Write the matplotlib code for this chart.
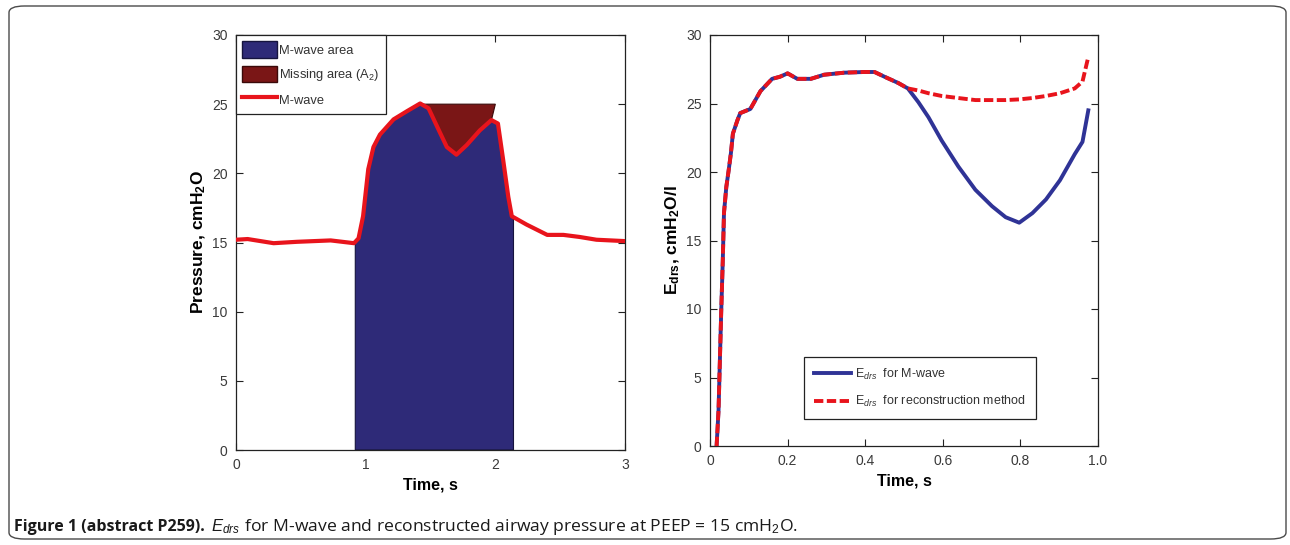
import numpy as np
import matplotlib
matplotlib.use("Agg")
import matplotlib.pyplot as plt
from matplotlib import font_manager as fm
from matplotlib.patches import FancyBboxPatch, Patch
from matplotlib.lines import Line2D

# ---------------- data ----------------
# Left panel: airway pressure (M-wave)
time_p = [0, 0.09, 0.29, 0.47, 0.73, 0.91, 0.945, 0.98, 1.0, 1.02, 1.06, 1.11,
          1.215, 1.32, 1.42, 1.485, 1.55, 1.626, 1.70, 1.78, 1.88, 1.97, 2.02,
          2.06, 2.10, 2.127, 2.24, 2.40, 2.525, 2.65, 2.78, 3.0]
pressure = [15.2, 15.25, 14.95, 15.05, 15.15, 14.95, 15.3, 16.9, 18.6, 20.3,
            21.9, 22.8, 23.9, 24.5, 25.05, 24.7, 23.4, 21.9, 21.35, 22.05,
            23.1, 23.85, 23.6, 21.0, 18.3, 16.9, 16.3, 15.55, 15.55, 15.4,
            15.2, 15.1]
mwave_start, mwave_end = 0.92, 2.14
missing_level, missing_start, missing_end = 25.0, 1.42, 2.0

# Right panel: E_drs
time_e = [0.017, 0.022, 0.026, 0.029, 0.033, 0.036, 0.042, 0.048, 0.054, 0.059,
          0.071, 0.078, 0.104, 0.13, 0.16, 0.18, 0.20, 0.225, 0.26, 0.294, 0.346,
          0.398, 0.424, 0.45, 0.485, 0.51, 0.537, 0.563, 0.597, 0.64, 0.684,
          0.727, 0.762, 0.797, 0.831, 0.866, 0.902, 0.94, 0.96, 0.975]
edrs_mwave = [0, 2.6, 6.8, 9.9, 13.6, 17.0, 18.9, 20.1, 21.4, 22.8, 23.8, 24.3,
              24.6, 25.9, 26.8, 26.95, 27.2, 26.8, 26.8, 27.1, 27.25, 27.3, 27.3,
              26.95, 26.5, 26.1, 25.1, 24.0, 22.3, 20.4, 18.7, 17.5, 16.7, 16.3,
              17.0, 18.0, 19.4, 21.3, 22.2, 24.5]
edrs_recon = [0, 2.6, 6.8, 9.9, 13.6, 17.0, 18.9, 20.1, 21.4, 22.8, 23.8, 24.3,
              24.6, 25.9, 26.8, 26.95, 27.2, 26.8, 26.8, 27.1, 27.25, 27.3, 27.3,
              26.95, 26.5, 26.1, 25.95, 25.75, 25.55, 25.4, 25.25, 25.25, 25.25,
              25.3, 25.4, 25.55, 25.75, 26.1, 26.6, 28.4]

left_xticks = [0, 1, 2, 3]
right_xticks = [0, 0.2, 0.4, 0.6, 0.8, 1.0]
right_xticklabels = ["0", "0.2", "0.4", "0.6", "0.8", "1.0"]
yticks = [0, 5, 10, 15, 20, 25, 30]

# ---------------- fonts ----------------
def pick(names):
    for n in names:
        try:
            fm.findfont(fm.FontProperties(family=n), fallback_to_default=False)
            return n
        except Exception:
            continue
    return "DejaVu Sans"

narrow = pick(["Liberation Sans Narrow", "Liberation Sans", "DejaVu Sans"])
arial = pick(["Liberation Sans", "DejaVu Sans"])
capfont = pick(["Liberation Sans Narrow", "Open Sans", "Liberation Sans"])

plt.rcParams["font.family"] = [arial, "DejaVu Sans"]
plt.rcParams["mathtext.fontset"] = "custom"
plt.rcParams["mathtext.rm"] = arial
plt.rcParams["mathtext.it"] = arial + ":italic"
plt.rcParams["mathtext.bf"] = arial + ":bold"

fig = plt.figure(figsize=(12.9, 5.45), dpi=100)

# outer rounded frame
frame = FancyBboxPatch((9 / 1290, 6 / 545), 1277 / 1290, 533 / 545,
                       boxstyle="round,pad=0,rounding_size=0.012",
                       transform=fig.transFigure, fill=False,
                       edgecolor="#4a4a4a", linewidth=1.0, clip_on=False)
fig.patches.append(frame)

tick_color = "#3a3a3a"
red = "#e8141c"
navy = "#2e2a78"
darkred = "#7a1616"


def style_axes(ax):
    ax.tick_params(direction="in", top=True, right=True, length=5, width=0.8,
                   labelsize=10, colors="#222222", labelcolor=tick_color, pad=6)
    for lbl in ax.get_xticklabels() + ax.get_yticklabels():
        lbl.set_fontfamily(narrow)
    for s in ax.spines.values():
        s.set_linewidth(0.9)
        s.set_color("#222222")


# ---------------- left panel ----------------
ax1 = fig.add_axes([236 / 1290, 1 - 450 / 545, 389 / 1290, 415 / 545])
tp = np.array(time_p)
pp = np.array(pressure)

# M-wave area polygon
mask = (tp > mwave_start) & (tp < mwave_end)
xa = np.concatenate([[mwave_start], tp[mask], [mwave_end]])
ya = np.concatenate([[np.interp(mwave_start, tp, pp)], pp[mask],
                     [np.interp(mwave_end, tp, pp)]])
ax1.fill(np.concatenate([[mwave_start], xa, [mwave_end]]),
         np.concatenate([[0], ya, [0]]), facecolor=navy,
         edgecolor="#15133d", linewidth=0.8, zorder=2)

# missing area polygon
m2 = (tp > missing_start) & (tp < missing_end + 0.02)
xm = np.concatenate([[missing_start], [missing_end], [tp[m2][-1]],
                     tp[m2][::-1]])
ym = np.concatenate([[missing_level], [missing_level], [pp[m2][-1]],
                     pp[m2][::-1]])
ax1.fill(xm, ym, facecolor=darkred, edgecolor="#3a0a0a", linewidth=0.8,
         zorder=2)

ax1.plot(tp, pp, color=red, linewidth=3.0, zorder=3, solid_joinstyle="round")

ax1.set_xlim(0, 3)
ax1.set_ylim(0, 30)
ax1.set_xticks(left_xticks)
ax1.set_yticks(yticks)
style_axes(ax1)
ax1.set_xlabel("Time, s", fontsize=11.5, fontweight="bold", labelpad=4)
ax1.set_ylabel(r"Pressure, cmH$_\mathbf{2}$O", fontsize=12.5,
               fontweight="bold", labelpad=3)

h1 = [Patch(facecolor=navy, edgecolor="#15133d"),
      Patch(facecolor=darkred, edgecolor="#3a0a0a"),
      Line2D([], [], color=red, linewidth=3.0)]
leg1 = ax1.legend(h1, ["M-wave area", r"Missing area (A$_2$)", "M-wave"],
                  loc="upper left", bbox_to_anchor=(0, 1), borderaxespad=0,
                  fancybox=False, edgecolor="#222222", framealpha=1,
                  handlelength=2.7, handleheight=1.6, handletextpad=0.1,
                  labelspacing=0.6, borderpad=0.5,
                  prop={"family": narrow, "size": 9.3})
leg1.get_frame().set_linewidth(0.9)
for t in leg1.get_texts():
    t.set_color("#333333")

# ---------------- right panel ----------------
ax2 = fig.add_axes([710 / 1290, 1 - 446 / 545, 388 / 1290, 411 / 545])
l_blue, = ax2.plot(time_e, edrs_mwave, color="#2f3396", linewidth=2.8,
                   zorder=2)
l_red, = ax2.plot(time_e, edrs_recon, color=red, linewidth=2.8, zorder=3,
                  linestyle=(0, (2.4, 0.9)))
ax2.set_xlim(0, 1.0)
ax2.set_ylim(0, 30)
ax2.set_xticks(right_xticks)
ax2.set_xticklabels(right_xticklabels)
ax2.set_yticks(yticks)
style_axes(ax2)
ax2.set_xlabel("Time, s", fontsize=11.5, fontweight="bold", labelpad=4)
ax2.set_ylabel(r"E$_\mathbf{drs}$, cmH$_\mathbf{2}$O/l", fontsize=12.5,
               fontweight="bold", labelpad=3)
leg2 = ax2.legend([l_blue, l_red],
                  [r"E$_{drs}$  for M-wave",
                   r"E$_{drs}$  for reconstruction method"],
                  loc="lower center", bbox_to_anchor=(0.541, 0.05),
                  fancybox=False, edgecolor="#222222", framealpha=1,
                  handlelength=3.0, handletextpad=0.3, labelspacing=1.0,
                  borderpad=0.8, prop={"family": narrow, "size": 9})
leg2.get_frame().set_linewidth(0.9)
for t in leg2.get_texts():
    t.set_color("#333333")

# ---------------- caption ----------------
fig.canvas.draw()
r = fig.canvas.get_renderer()
y_cap = 1 - 527 / 545
x = 14 / 1290
pieces = [
    ("Figure 1 (abstract P259).", "bold", 11.5),
    (" ", "normal", 11.5),
    (r"$\mathit{E}_{\mathit{drs}}$", "normal", 12.0),
    (" for M-wave and reconstructed airway pressure at PEEP = 15 cmH$_2$O.",
     "normal", 12.6),
]
for txt, w, fs in pieces:
    t = fig.text(x, y_cap, txt, fontsize=fs, fontweight=w,
                 family=capfont, color="#1a1a1a", va="center", ha="left")
    bb = t.get_window_extent(renderer=r)
    x += bb.width / fig.bbox.width
    if txt == " ":
        x += 2 / 1290

fig.savefig("out.png", dpi=100)
